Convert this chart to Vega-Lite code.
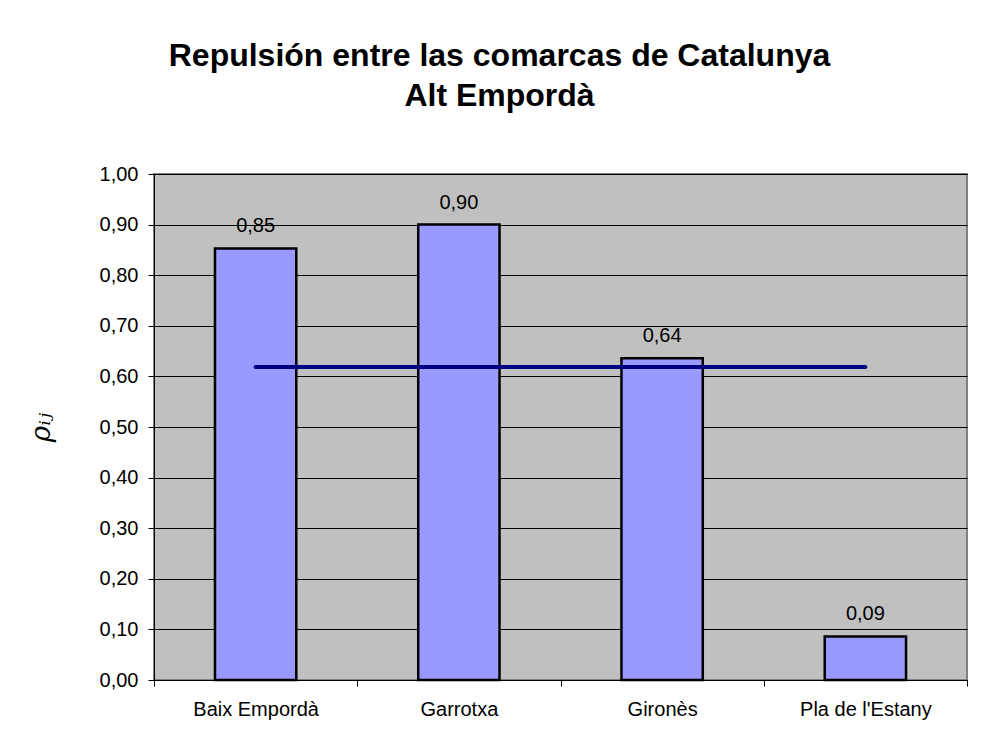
{
  "$schema": "https://vega.github.io/schema/vega-lite/v6.json",
  "autosize": "none",
  "width": 813,
  "height": 506,
  "padding": {"left": 154, "top": 174, "right": 15, "bottom": 64},
  "background": "white",
  "title": {
    "text": ["Repulsión entre las comarcas de Catalunya", "Alt Empordà"],
    "font": "Liberation Sans",
    "fontSize": 32,
    "fontWeight": "bold",
    "lineHeight": 40,
    "color": "black",
    "anchor": "middle",
    "dx": -61,
    "offset": 51
  },
  "data": {
    "values": [
      {"comarca": "Baix Empordà", "rho": 0.853},
      {"comarca": "Garrotxa", "rho": 0.90},
      {"comarca": "Gironès", "rho": 0.636},
      {"comarca": "Pla de l'Estany", "rho": 0.086}
    ]
  },
  "encoding": {
    "x": {
      "field": "comarca",
      "type": "nominal",
      "sort": null,
      "scale": {"paddingInner": 0, "paddingOuter": 0},
      "axis": {
        "title": null,
        "labelAngle": 0,
        "labelFont": "Liberation Sans",
        "labelFontSize": 20,
        "labelColor": "black",
        "labelPadding": 13,
        "tickBand": "extent",
        "tickSize": 6,
        "tickColor": "black",
        "domainColor": "black",
        "domainWidth": 1,
        "grid": false
      }
    }
  },
  "layer": [
    {
      "mark": {"type": "bar", "width": {"band": 0.4}, "fill": "#9999FF", "stroke": "black", "strokeWidth": 2.5},
      "encoding": {
        "y": {
          "field": "rho",
          "type": "quantitative",
          "scale": {"domain": [0, 1], "nice": false},
          "axis": {
            "title": "ρᵢⱼ",
            "titleFont": "DejaVu Serif",
            "titleFontStyle": "italic",
            "titleFontWeight": "normal",
            "titleFontSize": 28,
            "titleColor": "black",
            "titlePadding": 44,
            "values": [0, 0.1, 0.2, 0.3, 0.4, 0.5, 0.6, 0.7, 0.8, 0.9, 1.0],
            "format": ".2f",
            "labelFont": "Liberation Sans",
            "labelFontSize": 20,
            "labelColor": "black",
            "labelPadding": 10,
            "tickSize": 6,
            "tickColor": "black",
            "domainColor": "black",
            "grid": true,
            "gridColor": "black",
            "gridWidth": 1
          }
        }
      }
    },
    {
      "transform": [{"joinaggregate": [{"op": "mean", "field": "rho", "as": "media"}]}],
      "mark": {"type": "line", "color": "#000080", "strokeWidth": 4, "strokeCap": "round"},
      "encoding": {
        "y": {"field": "media", "type": "quantitative"}
      }
    },
    {
      "mark": {"type": "text", "baseline": "bottom", "dy": -12, "font": "Liberation Sans", "fontSize": 20, "color": "black"},
      "encoding": {
        "y": {"field": "rho", "type": "quantitative"},
        "text": {"field": "rho", "type": "quantitative", "format": ".2f"}
      }
    }
  ],
  "config": {
    "locale": {"number": {"decimal": ",", "thousands": ".", "grouping": [3], "currency": ["", " €"]}},
    "view": {"fill": "#C0C0C0", "stroke": "#808080", "strokeWidth": 2}
  }
}
